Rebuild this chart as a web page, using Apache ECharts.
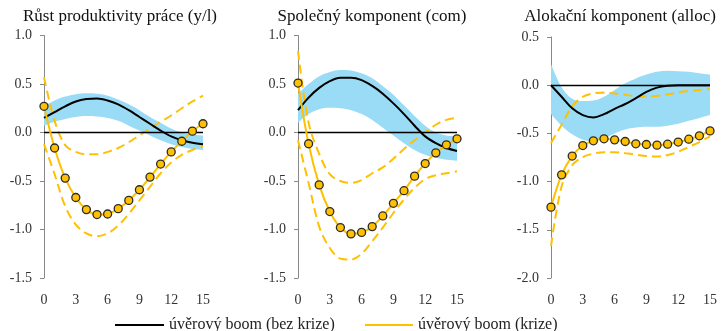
<!DOCTYPE html>
<html><head><meta charset="utf-8">
<script src="https://cdn.jsdelivr.net/npm/echarts@6/dist/echarts.min.js"></script>
<style>html,body{margin:0;padding:0;background:#fff}#c{width:722px;height:331px}</style>
</head><body><div id="c"></div>
<script>
const horizons = ['0','1','2','3','4','5','6','7','8','9','10','11','12','13','14','15'];
const titles = ['Růst produktivity práce (y/l)', 'Společný komponent (com)', 'Alokační komponent (alloc)'];
const nameNoCrisis = 'úvěrový boom (bez krize)';
const nameCrisis = 'úvěrový boom (krize)';

// Panel 1: y/l
const ylNoCrisis = [0.15,0.21,0.27,0.32,0.345,0.35,0.33,0.29,0.23,0.16,0.09,0.02,-0.04,-0.08,-0.105,-0.12];
const ylBandUpper = [0.27,0.33,0.37,0.395,0.405,0.40,0.38,0.34,0.29,0.23,0.16,0.10,0.04,0.0,-0.02,-0.03];
const ylBandLower = [0.07,0.11,0.14,0.16,0.17,0.165,0.15,0.12,0.07,0.02,-0.03,-0.08,-0.12,-0.15,-0.17,-0.18];
const ylCrisis = [0.27,-0.16,-0.47,-0.67,-0.795,-0.846,-0.84,-0.785,-0.70,-0.59,-0.46,-0.325,-0.20,-0.09,0.014,0.09];
const ylCrisisUpper = [0.57,0.12,-0.13,-0.20,-0.225,-0.225,-0.20,-0.16,-0.10,-0.03,0.04,0.11,0.175,0.25,0.32,0.38];
const ylCrisisLower = [-0.12,-0.43,-0.76,-0.95,-1.04,-1.07,-1.04,-0.96,-0.84,-0.70,-0.56,-0.42,-0.31,-0.23,-0.18,-0.14];

// Panel 2: com
const comNoCrisis = [0.23,0.36,0.46,0.53,0.565,0.565,0.54,0.48,0.40,0.30,0.19,0.07,-0.04,-0.11,-0.16,-0.19];
const comBandUpper = [0.40,0.50,0.58,0.625,0.645,0.64,0.61,0.56,0.48,0.39,0.28,0.17,0.07,0.0,-0.03,-0.04];
const comBandLower = [0.10,0.19,0.24,0.255,0.25,0.23,0.19,0.13,0.05,-0.03,-0.11,-0.18,-0.23,-0.26,-0.28,-0.29];
const comCrisis = [0.51,-0.116,-0.54,-0.815,-0.98,-1.045,-1.03,-0.97,-0.86,-0.73,-0.60,-0.45,-0.32,-0.21,-0.127,-0.065];
const comCrisisUpper = [0.84,0.10,-0.22,-0.43,-0.50,-0.52,-0.49,-0.42,-0.36,-0.27,-0.17,-0.08,0.0,0.08,0.13,0.15];
const comCrisisLower = [-0.08,-0.52,-0.97,-1.19,-1.30,-1.31,-1.25,-1.12,-0.98,-0.83,-0.69,-0.57,-0.48,-0.44,-0.42,-0.40];

// Panel 3: alloc
const allocNoCrisis = [0,-0.12,-0.24,-0.31,-0.335,-0.30,-0.245,-0.195,-0.135,-0.07,-0.025,-0.005,0,0,0,0];
const allocBandUpper = [0.22,-0.02,-0.14,-0.165,-0.16,-0.12,-0.05,0.02,0.07,0.11,0.14,0.15,0.145,0.14,0.125,0.11];
const allocBandLower = [-0.30,-0.42,-0.51,-0.565,-0.58,-0.55,-0.50,-0.46,-0.44,-0.43,-0.43,-0.42,-0.40,-0.37,-0.34,-0.31];
const allocCrisis = [-1.265,-0.93,-0.735,-0.626,-0.577,-0.556,-0.567,-0.584,-0.608,-0.615,-0.622,-0.612,-0.59,-0.56,-0.525,-0.474];
const allocCrisisUpper = [-0.60,-0.41,-0.22,-0.12,-0.085,-0.077,-0.085,-0.10,-0.115,-0.118,-0.11,-0.095,-0.075,-0.06,-0.05,-0.04];
const allocCrisisLower = [-1.67,-1.05,-0.83,-0.745,-0.71,-0.695,-0.695,-0.705,-0.72,-0.735,-0.74,-0.725,-0.69,-0.64,-0.59,-0.53];

const yRanges = [[-1.5,1.0],[-1.5,1.0],[-2.0,0.5]];

const panels = [
  {nc: ylNoCrisis, bu: ylBandUpper, bl: ylBandLower, c: ylCrisis, cu: ylCrisisUpper, cl: ylCrisisLower},
  {nc: comNoCrisis, bu: comBandUpper, bl: comBandLower, c: comCrisis, cu: comCrisisUpper, cl: comCrisisLower},
  {nc: allocNoCrisis, bu: allocBandUpper, bl: allocBandLower, c: allocCrisis, cu: allocCrisisUpper, cl: allocCrisisLower}
];

const FONT = '"Liberation Serif", serif';
const BLUE = '#9ADCF5';
const GOLD = '#FFC000';
const SM = 0.35;

const gridPos = [
  {left: 44, top: 35.5, width: 159, height: 242.5},
  {left: 298, top: 35.5, width: 159, height: 242.5},
  {left: 551, top: 37, width: 159, height: 241}
];
const titleCenters = [115, 367, 615];

const grid = [], xAxis = [], yAxis = [], series = [], title = [];
panels.forEach((p, k) => {
  grid.push(Object.assign({containLabel: false}, gridPos[k]));
  title.push({text: titles[k], left: titleCenters[k], top: 3, textAlign: 'center',
    textStyle: {fontFamily: FONT, fontSize: 17, fontWeight: 'normal', color: '#111'}});
  xAxis.push({type: 'category', gridIndex: k, data: horizons, boundaryGap: false,
    axisLine: {show: false}, axisTick: {show: false}, splitLine: {show: false},
    axisLabel: {fontFamily: FONT, fontSize: 14, color: '#333', margin: 15, interval: 2}});
  yAxis.push({type: 'value', gridIndex: k, min: yRanges[k][0], max: yRanges[k][1], interval: 0.5,
    axisLine: {show: true, onZero: false, lineStyle: {color: '#888', width: 1}},
    axisTick: {show: true, inside: false, length: 4, lineStyle: {color: '#888'}},
    splitLine: {show: false},
    axisLabel: {fontFamily: FONT, fontSize: 14, color: '#333', margin: 12, formatter: v => v.toFixed(1)}});
  const common = {xAxisIndex: k, yAxisIndex: k, type: 'line', smooth: SM, animation: false, silent: true};
  series.push(Object.assign({}, common, {name: 'band' + k + 'base', stack: 'band' + k, stackStrategy: 'all',
    data: p.bl, symbol: 'none', lineStyle: {opacity: 0}, z: 1}));
  series.push(Object.assign({}, common, {name: 'band' + k + 'width', stack: 'band' + k, stackStrategy: 'all',
    data: p.bu.map((u, i) => +(u - p.bl[i]).toFixed(4)), symbol: 'none', lineStyle: {opacity: 0},
    areaStyle: {color: BLUE, opacity: 1}, z: 1}));
  series.push(Object.assign({}, common, {name: nameNoCrisis, data: p.nc, symbol: 'none',
    lineStyle: {color: '#000', width: 2}, itemStyle: {color: '#000'}, z: 4,
    markLine: {silent: true, symbol: 'none', label: {show: false}, animation: false,
      lineStyle: {color: '#000', width: 1.3, type: 'solid'}, data: [{yAxis: 0}]}}));
  series.push(Object.assign({}, common, {name: 'cu' + k, data: p.cu, symbol: 'none',
    lineStyle: {color: GOLD, width: 2, type: [9, 5]}, z: 3}));
  series.push(Object.assign({}, common, {name: 'cl' + k, data: p.cl, symbol: 'none',
    lineStyle: {color: GOLD, width: 2, type: [9, 5]}, z: 3}));
  series.push(Object.assign({}, common, {name: nameCrisis, data: p.c, symbol: 'circle', symbolSize: 8,
    showAllSymbol: true,
    lineStyle: {color: GOLD, width: 2}, itemStyle: {color: GOLD, borderColor: '#2b2b2b', borderWidth: 1.3}, z: 5}));
});

const chart = echarts.init(document.getElementById('c'), null, {renderer: 'canvas'});
chart.setOption({
  animation: false,
  title, grid, xAxis, yAxis, series,
  legend: [
    {left: 110, top: 312, itemWidth: 49, itemHeight: 2, selectedMode: false,
      textStyle: {fontFamily: FONT, fontSize: 16, color: '#222'},
      data: [{name: nameNoCrisis, icon: 'rect', itemStyle: {color: '#000', borderWidth: 0}}]},
    {left: 360, top: 312, itemWidth: 48, itemHeight: 2, selectedMode: false,
      textStyle: {fontFamily: FONT, fontSize: 16, color: '#222'},
      data: [{name: nameCrisis, icon: 'rect', itemStyle: {color: GOLD, borderWidth: 0}}]}
  ]
});
</script></body></html>
